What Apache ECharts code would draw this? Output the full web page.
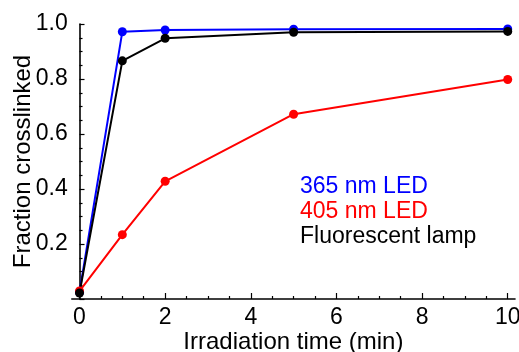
<!DOCTYPE html>
<html>
<head>
<meta charset="utf-8">
<script src="https://cdn.jsdelivr.net/npm/echarts@6/dist/echarts.min.js"></script>
<style>
  html, body { margin: 0; padding: 0; background: #fff; }
  #chart { width: 519px; height: 352px; }
</style>
</head>
<body>
<div id="chart"></div>
<script>
// Irradiation time (min)
const time = [0, 1, 2, 5, 10];
// Fraction crosslinked per light source
const led365 = [0.025, 0.972, 0.978, 0.981, 0.982];
const led405 = [0.029, 0.234, 0.428, 0.672, 0.798];
const lamp = [0.022, 0.866, 0.948, 0.970, 0.973];

const seriesNames = ['365 nm LED', '405 nm LED', 'Fluorescent lamp'];
const seriesColors = ['#0000ff', '#ff0000', '#000000'];

// Tick positions on the time axis
const xMajorTicks = [0, 2, 4, 6, 8, 10];
const xMinorTicks = [0.5, 1, 1.5, 2.5, 3, 3.5, 4.5, 5, 5.5, 6.5, 7, 7.5, 8.5, 9, 9.5];

const FONT = '"Liberation Sans", Arial, Helvetica, sans-serif';

const chart = echarts.init(document.getElementById('chart'), null, { renderer: 'canvas' });

const makeSeries = (name, values, color) => ({
  name: name,
  type: 'line',
  xAxisIndex: 0,
  yAxisIndex: 0,
  data: time.map((t, i) => [t, values[i]]),
  symbol: 'circle',
  symbolSize: 9,
  showSymbol: true,
  itemStyle: { color: color },
  lineStyle: { color: color, width: 2 },
  emphasis: { disabled: true }
});

chart.setOption({
  animation: false,
  backgroundColor: '#fff',
  grid: { left: 71.8, right: 4, top: 24, bottom: 53, containLabel: false, outerBoundsMode: 'none' },
  legend: {
    orient: 'vertical',
    left: 295,
    top: 175,
    padding: 0,
    icon: 'none',
    itemWidth: 0,
    itemHeight: 0,
    itemGap: 2,
    selectedMode: false,
    textStyle: { fontFamily: FONT, fontSize: 23, padding: 0 },
    data: seriesNames.map((n, i) => ({ name: n, textStyle: { color: seriesColors[i] } }))
  },
  xAxis: [
    {
      type: 'value',
      min: -0.18,
      max: 10.17,
      position: 'bottom',
      name: 'Irradiation time (min)',
      nameLocation: 'middle',
      nameGap: 31,
      nameMoveOverlap: false,
      nameTextStyle: { fontFamily: FONT, fontSize: 24, color: '#000' },
      axisLine: { show: true, onZero: true, lineStyle: { color: '#000', width: 1.6 } },
      axisTick: { show: true, inside: true, length: 6, customValues: xMajorTicks, lineStyle: { color: '#000', width: 1.2 } },
      axisLabel: { show: true, customValues: xMajorTicks, margin: 7, fontFamily: FONT, fontSize: 23, color: '#000' },
      minorTick: { show: false },
      splitLine: { show: false }
    },
    {
      type: 'value',
      min: -0.18,
      max: 10.17,
      position: 'bottom',
      axisLine: { show: false },
      axisTick: { show: true, inside: true, length: 3, customValues: xMinorTicks, lineStyle: { color: '#000', width: 1.2 } },
      axisLabel: { show: false },
      splitLine: { show: false }
    }
  ],
  yAxis: {
    type: 'value',
    min: 0,
    max: 1,
    interval: 0.2,
    name: 'Fraction crosslinked',
    nameLocation: 'middle',
    nameGap: 36,
    nameMoveOverlap: false,
    nameTextStyle: { fontFamily: FONT, fontSize: 24, color: '#000' },
    axisLine: { show: true, onZero: true, onZeroAxisIndex: 0, lineStyle: { color: '#000', width: 1.6 } },
    axisTick: { show: true, inside: true, length: 5, lineStyle: { color: '#000', width: 1.2 } },
    minorTick: { show: true, splitNumber: 4, length: 3, lineStyle: { color: '#000', width: 1.2 } },
    axisLabel: {
      margin: 4,
      fontFamily: FONT,
      fontSize: 23,
      color: '#000',
      formatter: v => (v === 0 ? '' : v.toFixed(1))
    },
    splitLine: { show: false }
  },
  series: [
    makeSeries(seriesNames[0], led365, seriesColors[0]),
    makeSeries(seriesNames[1], led405, seriesColors[1]),
    makeSeries(seriesNames[2], lamp, seriesColors[2])
  ]
});
</script>
</body>
</html>
